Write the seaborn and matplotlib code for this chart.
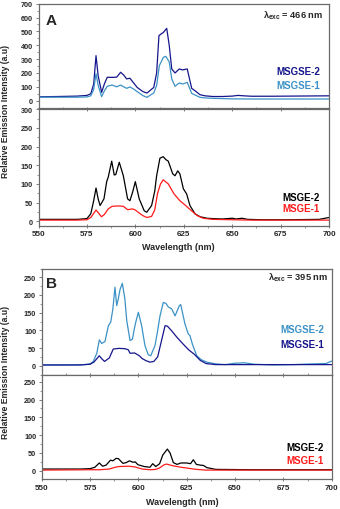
import matplotlib
matplotlib.use('Agg')
import matplotlib.pyplot as plt
import seaborn as sns
from matplotlib.ticker import MultipleLocator

sns.set_style('white')
plt.rcParams['font.family'] = ['Liberation Sans', 'DejaVu Sans']
plt.rcParams['mathtext.fontset'] = 'custom'
plt.rcParams['mathtext.rm'] = 'Liberation Sans:bold'
plt.rcParams['mathtext.bf'] = 'Liberation Sans:bold'
plt.rcParams['mathtext.it'] = 'Liberation Sans:bold'

# ---------------- data ----------------
# Panel A, top: MSGSE-2 / MSGSE-1, lambda_exc = 466 nm
a_top_s2_wl = [550, 560, 570, 575, 577, 578.5, 579.7, 580.8, 582.6, 584, 585.5, 588, 590.4, 592.4, 594,
               595.5, 597.2, 599, 601, 604, 606, 608.5, 609.5, 611, 612.2, 614.5, 616.2, 617.5, 618.8,
               620.5, 622.7, 624.4, 626.8, 629.1, 630.8, 633.4, 636, 640, 645, 650, 653, 656, 660, 670,
               680, 690, 700]
a_top_s2 = [28, 30, 33, 38, 50, 120, 325, 180, 60, 120, 169, 168, 170, 205, 185,
            157, 162, 130, 95, 65, 55, 84, 95, 200, 470, 493, 522, 400, 229,
            200, 229, 222, 229, 89, 72, 43, 35, 30, 30, 33, 38, 35, 32, 32,
            33, 34, 35]
a_top_s1_wl = [550, 560, 570, 575, 577, 578.5, 579.7, 580.8, 582.6, 584, 585.5, 588, 590.4, 592.4, 594,
               595.5, 597.2, 599, 601, 604, 606, 608.5, 609.5, 611, 612.4, 614.5, 615.7, 617.5, 618.8,
               620.5, 622.7, 624.4, 626.8, 629.1, 630.8, 633.4, 636, 640, 650, 660, 670, 680, 690, 700]
a_top_s1 = [25, 25, 25, 27, 35, 80, 195, 110, 29, 70, 104, 113, 100, 113, 100,
            89, 99, 85, 65, 36, 24, 47, 55, 110, 253, 313, 320, 280, 157,
            104, 128, 120, 132, 53, 41, 24, 20, 17, 13, 12, 12, 12, 12, 12]

# Panel A, bottom: MSGE-2 / MSGE-1
a_bot_g2_wl = [550, 560, 570, 575, 577, 578.5, 579.7, 580.8, 581.8, 583.8, 585.2, 586, 587.8, 589.1,
               589.9, 591.7, 593.8, 596, 597.2, 598.6, 600, 602, 604.6, 605.9, 608.4, 610, 611, 612.7,
               614.4, 615.8, 617, 619.3, 620.5, 621.9, 623, 624.8, 626.5, 628.2, 630.8, 633.4, 637,
               640, 645, 650, 652, 655, 658, 665, 680, 695, 700]
a_bot_g2 = [5, 5, 5, 7, 20, 55, 89, 60, 42, 60, 106, 118, 161, 124,
            125, 158, 122, 60, 55, 78, 106, 60, 28, 24, 42, 80, 122, 169,
            173, 165, 161, 127, 122, 135, 127, 87, 73, 42, 20, 12, 8,
            7, 6, 8, 6, 8, 5, 4, 4, 5, 10]
a_bot_g1_wl = [550, 570, 575, 577, 579.7, 581, 582.5, 584, 586, 588, 591, 593.8, 596, 598.6, 600,
               601.5, 603, 604.6, 606, 608.4, 610, 611.5, 613, 614.4, 617, 620, 623, 626, 629, 632,
               635, 640, 660, 700]
a_bot_g1 = [3, 3, 4, 10, 30, 22, 12, 18, 33, 40, 41, 40, 31, 33, 30,
            24, 18, 13, 10, 13, 30, 75, 100, 111, 100, 73, 55, 42, 28, 15,
            8, 5, 3, 3]

# Panel B, top: MSGSE-2 / MSGSE-1, lambda_exc = 395 nm
b_top_s2_wl = [550, 565, 572, 575, 576.7, 578.5, 579.8, 581, 582.7, 584.5, 585.7, 586.8, 587.9, 588.8,
               589.6, 590.5, 591.7, 593, 594, 595.7, 596.9, 598.5, 600, 601.7, 603.4, 605.1, 606.4,
               608.6, 610, 611.2, 612.9, 614.3, 615.5, 617.2, 619, 621.2, 621.9, 624.1, 625.8, 626.7,
               628, 630.2, 632.5, 635.4, 640, 645, 650, 655, 660, 670, 680, 690, 697, 700]
b_top_s2 = [2, 2, 3, 5, 12, 35, 73, 63, 68, 113, 123, 160, 222, 170,
            189, 215, 233, 190, 127, 71, 75, 120, 151, 113, 57, 31, 28,
            57, 100, 141, 179, 176, 166, 161, 141, 170, 173, 118, 90, 85,
            60, 28, 17, 10, 5, 3, 7, 8, 4, 2, 3, 5, 6, 13]
b_top_s1_wl = [550, 570, 575, 577, 579.8, 581, 582.5, 585, 587, 590, 593, 594.8, 595.7, 598, 599,
               600.5, 602, 604, 606, 608, 610, 611.5, 613.8, 615, 617, 620, 623, 626, 629, 632, 635,
               640, 660, 700]
b_top_s1 = [2, 2, 4, 10, 28, 20, 12, 22, 47, 49, 48, 45, 35, 36, 33,
            28, 20, 14, 10, 12, 25, 60, 113, 112, 100, 80, 62, 45, 32, 15, 6,
            3, 3, 3]

# Panel B, bottom: MSGE-2 / MSGE-1
b_bot_g2_wl = [550, 570, 575, 577.5, 579.8, 581.5, 583.3, 585.6, 586.8, 588.5, 589.7, 592, 593.7,
               595.4, 597.2, 598.4, 599.8, 603, 606, 607.4, 609, 611, 612.6, 615, 616.4, 618.1, 620,
               622, 625, 627, 628.4, 630, 632, 633.7, 635.4, 640, 660, 700]
b_bot_g2 = [5, 5, 6, 10, 22, 13, 16, 30, 28, 35, 34, 21, 23,
            28, 24, 25, 17, 12, 10, 20, 12, 20, 44, 61, 50, 23, 18,
            22, 22, 20, 31, 18, 16, 15, 9, 4, 3, 3]
b_bot_g1_wl = [550, 575, 580, 585, 588, 590, 595, 598, 602, 606, 609, 611, 613, 614.5, 618, 622,
               626, 630, 635, 640, 700]
b_bot_g1 = [2, 3, 3, 5, 10, 12, 13, 11, 5, 3, 4, 8, 16, 19, 14, 10,
            7, 4, 2, 2, 2]

xticks = [550, 575, 600, 625, 650, 675, 700]

NAVY = '#16168c'
LBLUE = '#3c92c6'
RED = '#ff1a1a'
BLACK = '#000000'
SPINE = '#6a6a6a'

W, H = 340, 510
fig = plt.figure(figsize=(W / 100, H / 100), dpi=100)


def add_ax(l, r, t, b):
    return fig.add_axes([l / W, 1 - b / H, (r - l) / W, (b - t) / H])


def style(ax, ylim, yticks, ymajor, yminor, bottom):
    ax.set_xlim(550, 700)
    ax.set_ylim(*ylim)
    ax.set_yticks(yticks)
    ax.yaxis.set_minor_locator(MultipleLocator(yminor))
    for s in ax.spines.values():
        s.set_color(SPINE)
        s.set_linewidth(0.9)
    ax.tick_params(axis='y', which='major', direction='out', length=2.5, width=0.6,
                   color=SPINE, labelsize=5.2, pad=1.5, left=True)
    ax.tick_params(axis='y', which='minor', direction='out', length=1.3, width=0.5,
                   color=SPINE, left=True)
    for t in ax.get_yticklabels():
        t.set_fontweight('bold')
    ax.set_xlabel('')
    ax.set_ylabel('')
    if bottom:
        ax.set_xticks(xticks)
        ax.xaxis.set_minor_locator(MultipleLocator(12.5))
        ax.tick_params(axis='x', which='major', direction='out', length=2.5, width=0.6,
                       color=SPINE, labelsize=5.8, pad=2, bottom=True)
        ax.tick_params(axis='x', which='minor', direction='out', length=1.3, width=0.5,
                       color=SPINE, bottom=True)
        ax.tick_params(axis='x', which='both', top=True)
        ax.tick_params(axis='x', which='major', direction='inout', length=2.5)
        for t in ax.get_xticklabels():
            t.set_fontweight('bold')
    else:
        ax.set_xticks([])
        ax.tick_params(axis='x', which='both', bottom=False, top=False, labelbottom=False)


def draw(ax, wl, val, color):
    sns.lineplot(x=wl, y=val, ax=ax, color=color, linewidth=0.9, estimator=None, sort=False)


# Panel A
axA1 = add_ax(38.5, 329, 4.7, 108.6)
draw(axA1, a_top_s2_wl, a_top_s2, NAVY)
draw(axA1, a_top_s1_wl, a_top_s1, LBLUE)
style(axA1, (-50, 700), range(0, 701, 100), 100, 50, False)

axA2 = add_ax(38.5, 329, 110.3, 226.7)
draw(axA2, a_bot_g2_wl, a_bot_g2, BLACK)
draw(axA2, a_bot_g1_wl, a_bot_g1, RED)
style(axA2, (-12, 300), range(0, 301, 50), 50, 25, True)

# Panel B
axB1 = add_ax(41.7, 331.7, 269.5, 375.5)
draw(axB1, b_top_s2_wl, b_top_s2, LBLUE)
draw(axB1, b_top_s1_wl, b_top_s1, NAVY)
style(axB1, (-25, 275), range(0, 251, 50), 50, 25, False)

axB2 = add_ax(41.7, 331.7, 376, 480)
draw(axB2, b_bot_g2_wl, b_bot_g2, BLACK)
draw(axB2, b_bot_g1_wl, b_bot_g1, RED)
style(axB2, (-23, 269), range(0, 251, 50), 50, 25, True)


def ftext(x, y, s, **kw):
    fig.text(x / W, 1 - y / H, s, **kw)


bold = dict(fontweight='bold')
# panel letters
ftext(51, 21, 'A', fontsize=11, ha='center', va='center', **bold)
ftext(51.5, 284, 'B', fontsize=11, ha='center', va='center', **bold)
# excitation labels
ftext(323, 15.5, r'$\lambda_{exc}$ = 466 nm', fontsize=6.7, ha='right', va='center', **bold)
ftext(328, 278, r'$\lambda_{exc}$ = 395 nm', fontsize=6.7, ha='right', va='center', **bold)
# series labels
ftext(320, 72.5, 'MSGSE-2', fontsize=7, color=NAVY, ha='right', va='center', **bold)
ftext(320, 86, 'MSGSE-1', fontsize=7, color=LBLUE, ha='right', va='center', **bold)
ftext(320, 197.7, 'MSGE-2', fontsize=7, color=BLACK, ha='right', va='center', **bold)
ftext(320, 209.5, 'MSGE-1', fontsize=7, color=RED, ha='right', va='center', **bold)
ftext(324, 330, 'MSGSE-2', fontsize=7, color=LBLUE, ha='right', va='center', **bold)
ftext(324, 344.5, 'MSGSE-1', fontsize=7, color=NAVY, ha='right', va='center', **bold)
ftext(324, 447.7, 'MSGE-2', fontsize=7, color=BLACK, ha='right', va='center', **bold)
ftext(324, 461, 'MSGE-1', fontsize=7, color=RED, ha='right', va='center', **bold)
# axis labels
ftext(6, 112, 'Relative Emission Intensity (a.u)', fontsize=6.2, rotation=90,
      ha='center', va='center', **bold)
ftext(6, 372.5, 'Relative Emission Intensity (a.u)', fontsize=6.2, rotation=90,
      ha='center', va='center', **bold)
ftext(178, 248, 'Wavelength (nm)', fontsize=6.5, ha='center', va='center', **bold)
ftext(182.5, 503, 'Wavelength (nm)', fontsize=6.5, ha='center', va='center', **bold)

fig.savefig('out.png', dpi=100)
